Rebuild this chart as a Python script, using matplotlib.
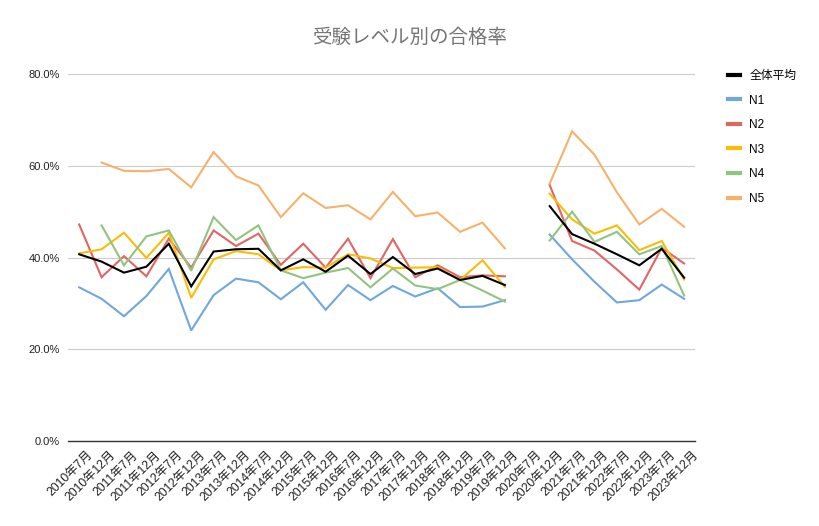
import numpy as np
import matplotlib
matplotlib.use("Agg")
import matplotlib.pyplot as plt
import matplotlib.transforms as mtransforms
from matplotlib.ticker import FuncFormatter, MultipleLocator

plt.rcParams['font.family'] = ['Liberation Sans', 'Noto Sans CJK JP']

nan = np.nan
categories = ["2010年7月", "2010年12月", "2011年7月", "2011年12月", "2012年7月", "2012年12月",
              "2013年7月", "2013年12月", "2014年7月", "2014年12月", "2015年7月", "2015年12月",
              "2016年7月", "2016年12月", "2017年7月", "2017年12月", "2018年7月", "2018年12月",
              "2019年7月", "2019年12月", "2020年7月", "2020年12月", "2021年7月", "2021年12月",
              "2022年7月", "2022年12月", "2023年7月", "2023年12月"]

avg = [40.7, 39.1, 36.7, 38.0, 43.0, 33.7, 41.3, 41.8, 41.9, 37.2, 39.6, 36.9, 40.4, 36.4,
       40.1, 36.4, 37.6, 35.1, 36.0, 34.0, nan, 51.2, 45.1, 43.0, 40.7, 38.3, 41.9, 35.6]
n1 = [33.5, 31.0, 27.2, 31.6, 37.5, 24.1, 31.8, 35.4, 34.6, 30.9, 34.6, 28.6, 34.0, 30.7,
      33.8, 31.5, 33.3, 29.2, 29.3, 30.7, nan, 45.0, 39.6, 34.7, 30.2, 30.7, 34.1, 31.0]
n2 = [47.2, 35.7, 40.3, 35.9, 44.1, 37.8, 45.9, 42.5, 45.2, 38.4, 43.0, 37.8, 44.1, 35.5,
      44.0, 35.7, 38.3, 35.7, 36.1, 35.9, nan, 55.8, 43.6, 41.5, 37.4, 33.0, 42.1, 38.7]
n3 = [40.9, 41.8, 45.4, 39.9, 45.4, 31.2, 39.6, 41.4, 40.7, 37.2, 37.9, 37.8, 40.7, 39.8,
      37.7, 37.8, 37.9, 35.1, 39.4, 33.6, nan, 53.9, 48.3, 45.2, 47.0, 41.6, 43.6, 35.2]
n4 = [nan, 47.0, 38.3, 44.6, 45.9, 37.1, 48.8, 43.8, 47.0, 37.2, 35.5, 36.7, 37.7, 33.5,
      37.6, 33.9, 33.1, 35.1, 32.8, 30.4, nan, 43.7, 50.0, 43.4, 45.6, 40.7, 42.5, 31.7]
n5 = [nan, 60.7, 58.9, 58.8, 59.3, 55.3, 63.0, 57.7, 55.7, 48.8, 54.0, 50.8, 51.4, 48.3,
      54.3, 49.0, 49.8, 45.6, 47.6, 42.0, nan, 56.1, 67.5, 62.4, 54.2, 47.2, 50.6, 46.7]

series = [("全体平均", avg, "#000000"), ("N1", n1, "#6fa8dc"), ("N2", n2, "#e06666"),
          ("N3", n3, "#fbbc04"), ("N4", n4, "#93c47d"), ("N5", n5, "#f6b26b")]

fig = plt.figure(figsize=(8.19, 5.26), dpi=100)
ax = fig.add_axes([0.083, 0.1616, 0.766, 0.6977])

x = np.arange(len(categories))
for name, vals, col in series:
    ax.plot(x, np.array(vals, dtype=float) / 100, color=col, lw=1.5, label=name,
            solid_joinstyle='miter', zorder=3 if name == "全体平均" else 2)

ax.set_xlim(-0.5, len(categories) - 0.5)
ax.set_ylim(0, 0.8)
ax.yaxis.set_major_locator(MultipleLocator(0.2))
ax.yaxis.set_major_formatter(FuncFormatter(lambda v, p: f"{v*100:.1f}%"))
ax.grid(axis='y', color='#cccccc', lw=0.8)
ax.set_axisbelow(True)
for s in ['top', 'right', 'left']:
    ax.spines[s].set_visible(False)
ax.spines['bottom'].set_color('#333333')
ax.spines['bottom'].set_linewidth(1.0)
ax.spines['bottom'].set_zorder(4)
ax.tick_params(axis='y', length=0, pad=6, labelsize=8, labelcolor='#222222')
ax.set_xticks(x)
ax.set_xticklabels(categories, rotation=45, ha='right', va='top', rotation_mode='anchor',
                   fontsize=8.8, color='#222222')
ax.tick_params(axis='x', length=0, pad=0)
offset = mtransforms.ScaledTranslation(8 / 100, -8 / 100, fig.dpi_scale_trans)
for lab in ax.get_xticklabels():
    lab.set_transform(lab.get_transform() + offset)

fig.text(0.5, 0.928, "受験レベル別の合格率", ha='center', va='center', fontsize=14,
         color='#757575', fontweight='normal')

leg_handles = [plt.Line2D([0], [0], color=c, lw=3) for _, _, c in series]
fig.legend(leg_handles, [n for n, _, _ in series], loc='upper left',
           bbox_to_anchor=(0.876, 0.887), frameon=False, fontsize=8.5,
           handlelength=1.0, handletextpad=0.8, labelspacing=1.06)

fig.savefig("out.png", dpi=100)
